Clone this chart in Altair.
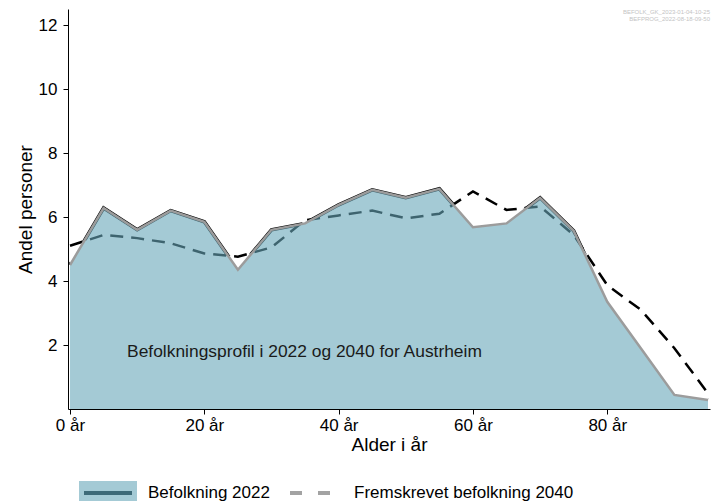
import altair as alt
import pandas as pd

# ---- data ----
ages = [0, 5, 10, 15, 20, 25, 30, 35, 40, 45, 50, 55, 60, 65, 70, 75, 80, 85, 90, 95]
befolkning_2022 = [4.5, 6.28, 5.6, 6.2, 5.85, 4.35, 5.6, 5.8, 6.38, 6.85, 6.6, 6.88,
                   5.68, 5.8, 6.6, 5.57, 3.35, 1.9, 0.44, 0.28]
fremskrevet_2040 = [5.1, 5.44, 5.34, 5.18, 4.86, 4.76, 5.05, 5.9, 6.05, 6.2, 5.96, 6.1,
                    6.8, 6.22, 6.33, 5.44, 3.87, 3.1, 1.9, 0.49]
x_ticks = [0, 20, 40, 60, 80]
y_ticks = [2, 4, 6, 8, 10, 12]
series_labels = ["Befolkning 2022", "Fremskrevet befolkning 2040"]
annotation = ["Befolkningsprofil i 2022 og 2040 for Austrheim"]
annotation_pos = [8.5, 1.78]
meta_texts = ["BEFOLK_GK_2023-01-04-10-25", "BEFPROG_2022-08-18-09-50"]

df = pd.DataFrame({"alder": ages, "v2022": befolkning_2022, "v2040": fremskrevet_2040})
df_ann = pd.DataFrame({"alder": [annotation_pos[0]], "y": [annotation_pos[1]], "txt": annotation})

FONT = "Liberation Sans"
W, H = 642, 400

xscale = alt.Scale(domain=[-0.3, 95.3], nice=False, zero=False)
yscale = alt.Scale(domain=[0, 12.5], nice=False)

xaxis = alt.Axis(values=x_ticks, labelExpr="datum.value + ' år'", title="Alder i år",
                 grid=False, domainColor="black", tickColor="black", tickSize=5,
                 labelFontSize=17, labelColor="black", labelPadding=3,
                 titleFontSize=19, titleColor="black", titleFontWeight="normal",
                 titlePadding=2, labelFont=FONT, titleFont=FONT, zindex=1)
yaxis = alt.Axis(values=y_ticks, title="Andel personer", grid=False, domainColor="black",
                 tickColor="black", tickSize=5, labelFontSize=17, labelColor="black",
                 labelPadding=6, titleFontSize=19, titleColor="black",
                 titleFontWeight="normal", titlePadding=3, labelFont=FONT, titleFont=FONT,
                 zindex=1)

base = alt.Chart(df)
X = alt.X("alder:Q", scale=xscale, axis=xaxis)
Y22 = alt.Y("v2022:Q", scale=yscale, axis=yaxis)
Y40 = alt.Y("v2040:Q", scale=yscale, axis=yaxis)

black_2022 = base.mark_line(color="black", strokeWidth=3.5).encode(x=X, y=Y22)
white_2040 = base.mark_area(color="white", opacity=1).encode(x=X, y=Y40)
dash_2040 = base.mark_line(color="black", strokeWidth=2.5, strokeDash=[13, 8]).encode(x=X, y=Y40)

legend_fill = alt.Legend(orient="none", legendX=11, legendY=453, direction="horizontal",
                         symbolType="M-1,-0.345H1V0.345H-1Z", symbolSize=3364,
                         symbolOpacity=0.6, symbolStrokeWidth=0, labelExpr="''",
                         title=None, padding=0, labelFontSize=17, labelOffset=12)
area_2022 = base.mark_area(opacity=0.6).encode(
    x=X, y=Y22,
    fill=alt.Fill("lab_fill:N", scale=alt.Scale(domain=[series_labels[0]], range=["#67A6B9"]),
                  legend=legend_fill),
).transform_calculate(lab_fill="'%s'" % series_labels[0])
grey_2022 = base.mark_line(color="#9c9c9c", strokeWidth=2.5).encode(x=X, y=Y22)

ann = alt.Chart(df_ann).mark_text(align="left", baseline="middle", fontSize=17.4, font=FONT,
                                   color="#1a1a1a").encode(
    x=alt.X("alder:Q", scale=xscale), y=alt.Y("y:Q", scale=yscale), text="txt:N")

meta1 = alt.Chart(pd.DataFrame({"t": [meta_texts[0]]})).mark_text(
    align="right", baseline="middle", fontSize=6, font=FONT, color="#c4c4c4").encode(
    x=alt.value(642), y=alt.value(3), text="t:N")
meta2 = alt.Chart(pd.DataFrame({"t": [meta_texts[1]]})).mark_text(
    align="right", baseline="middle", fontSize=6, font=FONT, color="#c4c4c4").encode(
    x=alt.value(642), y=alt.value(10), text="t:N")

legend_line = alt.Legend(orient="none", legendX=14, legendY=458, direction="horizontal",
                         symbolType="stroke", symbolSize=2304, symbolOpacity=1,
                         symbolStrokeWidth=4, title=None, padding=0, labelFontSize=17,
                         labelColor="black", labelFont=FONT, labelOffset=14,
                         columnPadding=12, labelLimit=400)
legend_layer = base.transform_fold(["v2022", "v2040"], as_=["key", "val"]).transform_calculate(
    lab="datum.key == 'v2022' ? '%s' : '%s'" % (series_labels[0], series_labels[1])
).mark_line(opacity=0).encode(
    x=X, y=alt.Y("val:Q", scale=yscale, axis=yaxis),
    stroke=alt.Stroke("lab:N", scale=alt.Scale(domain=series_labels, range=["#3d6a78", "#a3a3a3"]),
                      legend=legend_line),
    strokeDash=alt.StrokeDash("lab:N", scale=alt.Scale(domain=series_labels, range=[[1, 0], [12, 16]]),
                              legend=legend_line),
)

chart = alt.layer(black_2022, white_2040, dash_2040, area_2022, grey_2022, ann, meta1, meta2,
                  legend_layer).properties(
    width=W, height=H,
    autosize=alt.AutoSizeParams(type="none"),
    padding={"left": 60, "top": 1, "right": 1, "bottom": 92},
    background="white",
).configure_view(stroke=None).configure_legend(labelFont=FONT, labelColor="black")

chart.save("out.html", embed_options={"renderer": "svg", "actions": False})
